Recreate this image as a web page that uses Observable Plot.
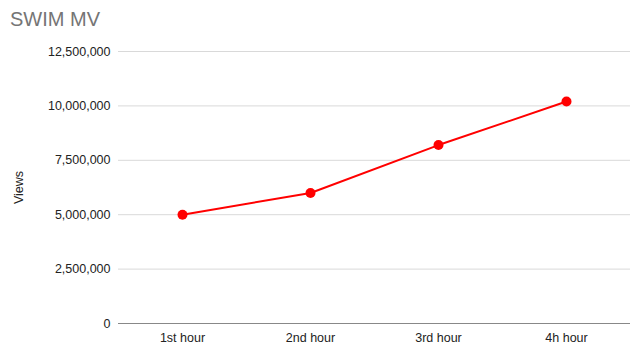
<!DOCTYPE html>
<html>
<head>
<meta charset="utf-8">
<script src="https://cdn.jsdelivr.net/npm/d3@7"></script>
<script src="https://cdn.jsdelivr.net/npm/@observablehq/plot@0.6"></script>
<style>
  body { margin: 0; background: #fff; font-family: Arial, "Liberation Sans", sans-serif; }
  #title { height: 40px; padding-left: 10px; font-size: 20px; line-height: 38px; color: #757575; }
</style>
</head>
<body>
<div id="title">SWIM MV</div>
<div id="chart"></div>
<script>
const categories = ["1st hour", "2nd hour", "3rd hour", "4h hour"];
const views = [5000000, 6000000, 8200000, 10200000];
const yTicks = [0, 2500000, 5000000, 7500000, 10000000, 12500000];

const data = categories.map((c, i) => ({hour: c, views: views[i]}));

const chart = Plot.plot({
  width: 638,
  height: 313,
  marginTop: 11,
  marginBottom: 30,
  marginLeft: 118,
  marginRight: 8,
  style: {fontFamily: "Arial, 'Liberation Sans', sans-serif", fontSize: "12.5px", color: "#222"},
  x: {type: "point", domain: categories, padding: 0.5},
  y: {domain: [0, 12500000]},
  marks: [
    Plot.gridY(yTicks, {stroke: "#d9d9d9", strokeOpacity: 1, strokeWidth: 1}),
    Plot.ruleY([0], {stroke: "#888", strokeWidth: 1}),
    Plot.axisY(yTicks, {tickSize: 0, tickPadding: 8, tickFormat: d3.format(","), label: "Views", labelArrow: "none", labelAnchor: "center", labelOffset: 104, fill: "#222"}),
    Plot.axisX({tickSize: 0, tickPadding: 10, label: null, fill: "#222"}),
    Plot.line(data, {x: "hour", y: "views", stroke: "red", strokeWidth: 2}),
    Plot.dot(data, {x: "hour", y: "views", fill: "red", r: 5})
  ]
});
document.getElementById("chart").appendChild(chart);
</script>
</body>
</html>
